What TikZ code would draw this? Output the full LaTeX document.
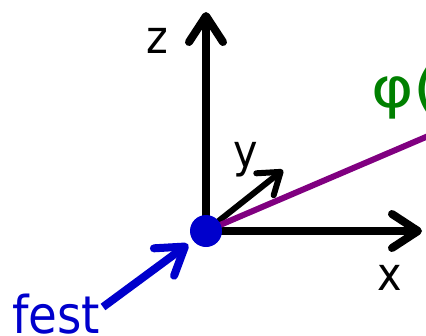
\documentclass[tikz,border=0pt]{standalone}
\usepackage{fontspec}
\setmainfont{DejaVu Sans Condensed}
\newfontfamily\phifont{DejaVu Sans}
\usepackage{tikz}
\usetikzlibrary{positioning, arrows.meta}
\definecolor{dotblue}{HTML}{0000CC}
\definecolor{phigreen}{HTML}{008000}
\definecolor{pathpurple}{HTML}{800080}

\tikzset{
  axis/.style={line width=8pt, line cap=round,
               -{Straight Barb[length=26pt, width=34pt, round]}},
  axislabel/.style={anchor=base, inner sep=0pt, font=\fontsize{46}{50}\selectfont}
}

\begin{document}
\begin{tikzpicture}[x=1pt, y=-1pt]
    \path[use as bounding box] (0,0) rectangle (426,335);
    \coordinate (o) at (206,231);
    \coordinate (ztip) at (206,12);
    \coordinate (xtip) at (422,231);
    \coordinate (ytip) at (283,170);
    \coordinate (pathend) at (440,131);
    \coordinate (festtail) at (103,307);

    % axes
    \draw[axis] (o) -- (ztip);
    \draw[axis] (o) -- (xtip);
    \draw[line width=6pt, line cap=round,
          -{Straight Barb[length=20pt, width=28pt, round]}] (o) -- (ytip);
    \draw[pathpurple, line width=6pt] (o) -- (pathend);

    \node[axislabel] (zlabel) at (157,53) {z};
    \node[axislabel] (xlabel) at (390,290) {x};
    \node[axislabel] (ylabel) at (246,167) {y};
    \node[anchor=base west, inner sep=0pt, text=phigreen, xscale=1.15, transform shape,
          font=\phifont\fontsize{56}{60}\selectfont] (philabel) at (371,107) {φ(};

    % fixed point
    \node[circle, fill=dotblue, minimum size=32pt, inner sep=0pt] (dot) at (o) {};
    \node[anchor=base west, inner sep=0pt, text=dotblue,
          font=\fontsize{52}{56}\selectfont] (fest) at (12,333) {fest};
    \draw[dotblue, line width=8pt,
          -{Straight Barb[length=26pt, width=34pt, round]}, shorten >=6pt]
          (festtail) -- (dot);
\end{tikzpicture}
\end{document}
